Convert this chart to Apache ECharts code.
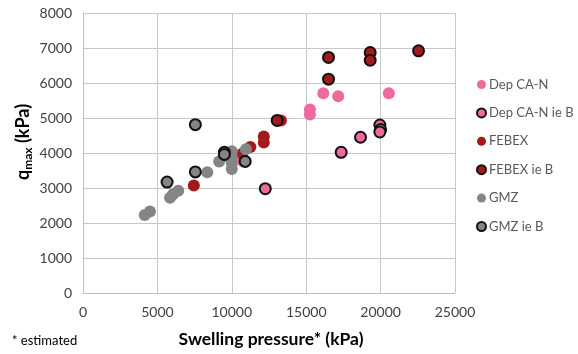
<!DOCTYPE html>
<html>
<head>
<meta charset="utf-8">
<script src="https://cdn.jsdelivr.net/npm/echarts@6/dist/echarts.min.js"></script>
<style>
  html, body { margin: 0; padding: 0; background: #fff; }
  #chart { width: 578px; height: 354px; }
</style>
</head>
<body>
<div id="chart"></div>
<script>
  // [swelling pressure (kPa), qmax (kPa)]
  var depCaN = [[16150, 5710], [17150, 5620], [20550, 5710], [15250, 5240], [15250, 5100], [10700, 3780]]
  var depCaNieB = [[19950, 4800], [20000, 4670], [19950, 4600], [18650, 4450], [17350, 4020], [12250, 2980]]
  var febex = [[7450, 3070], [11250, 4170], [12150, 4470], [12150, 4300], [13300, 4930], [10700, 3980]]
  var febexIeB = [[16500, 6730], [16500, 6110], [19300, 6870], [19300, 6650], [22550, 6920], [13050, 4930]]
  var gmz = [[4150, 2230], [4500, 2330], [5850, 2720], [6050, 2820], [6400, 2920], [8350, 3450],
             [9150, 3760], [10000, 4050], [10000, 3880], [10000, 3700], [10000, 3540], [10950, 4110], [9450, 3900]]
  var gmzIeB = [[7550, 4810], [5650, 3170], [7550, 3460], [9500, 4020], [9500, 3960], [10900, 3760]]

  var seriesNames = ['Dep CA-N', 'Dep CA-N ie B', 'FEBEX', 'FEBEX ie B', 'GMZ', 'GMZ ie B']
  var xTicks = [0, 5000, 10000, 15000, 20000, 25000]
  var yTicks = [0, 1000, 2000, 3000, 4000, 5000, 6000, 7000, 8000]

  var pink = '#EE6A9E'
  var red = '#A21A1A'
  var grey = '#858585'
  var font = 'Lato, "Open Sans", sans-serif'

  function mk(name, data, color, bordered) {
    return {
      name: name,
      type: 'scatter',
      data: data,
      symbolSize: bordered ? 11 : 12,
      itemStyle: {
        color: color,
        opacity: 1,
        borderColor: bordered ? '#111' : color,
        borderWidth: bordered ? 2 : 0
      }
    }
  }

  var chart = echarts.init(document.getElementById('chart'))
  chart.setOption({
    animation: false,
    grid: { left: 83, right: 123, top: 13, bottom: 61 },
    legend: {
      orient: 'vertical',
      left: 471,
      top: 73,
      itemWidth: 9,
      itemHeight: 9,
      itemGap: 15.4,
      icon: 'circle',
      textStyle: { color: '#595959', fontSize: 13, fontFamily: font, padding: [0, 0, 0, -2] },
      data: seriesNames
    },
    xAxis: {
      type: 'value',
      min: 0, max: 25000, interval: 5000,
      axisLine: { show: true, lineStyle: { color: '#bfbfbf' } },
      axisTick: { show: false },
      axisLabel: { color: '#404040', fontSize: 14, margin: 12, fontFamily: font,
        formatter: function (v) { return xTicks.indexOf(v) >= 0 ? String(v) : '' } },
      splitLine: { lineStyle: { color: '#c8c8c8' } }
    },
    yAxis: {
      type: 'value',
      min: 0, max: 8000, interval: 1000,
      axisLine: { show: true, lineStyle: { color: '#bfbfbf' } },
      axisTick: { show: false },
      axisLabel: { color: '#404040', fontSize: 14, margin: 11, fontFamily: font,
        formatter: function (v) { return yTicks.indexOf(v) >= 0 ? String(v) : '' } },
      splitLine: { lineStyle: { color: '#c8c8c8' } }
    },
    graphic: [
      {
        type: 'text',
        x: 23, y: 142,
        rotation: Math.PI / 2,
        style: {
          text: '{q|q}{s|max}{q| (kPa)}',
          align: 'center',
          verticalAlign: 'middle',
          rich: {
            q: { fontSize: 18, fontWeight: 'bold', fill: '#000', fontFamily: font, lineHeight: 22, verticalAlign: 'middle' },
            s: { fontSize: 12, fontWeight: 'bold', fill: '#000', fontFamily: font, lineHeight: 22, verticalAlign: 'bottom', padding: [9, 0, 0, 0] }
          }
        }
      },
      {
        type: 'text',
        x: 271, y: 339,
        style: { text: 'Swelling pressure* (kPa)', align: 'center', verticalAlign: 'middle',
          fontSize: 17.5, fontWeight: 'bold', fill: '#000', fontFamily: font }
      },
      {
        type: 'text',
        x: 12, y: 341,
        style: { text: '* estimated', align: 'left', verticalAlign: 'middle',
          fontSize: 13, fill: '#000', fontFamily: font }
      }
    ],
    series: [
      mk(seriesNames[0], depCaN, pink, false),
      mk(seriesNames[1], depCaNieB, pink, true),
      mk(seriesNames[2], febex, red, false),
      mk(seriesNames[3], febexIeB, red, true),
      mk(seriesNames[4], gmz, grey, false),
      mk(seriesNames[5], gmzIeB, grey, true)
    ]
  })
</script>
</body>
</html>
